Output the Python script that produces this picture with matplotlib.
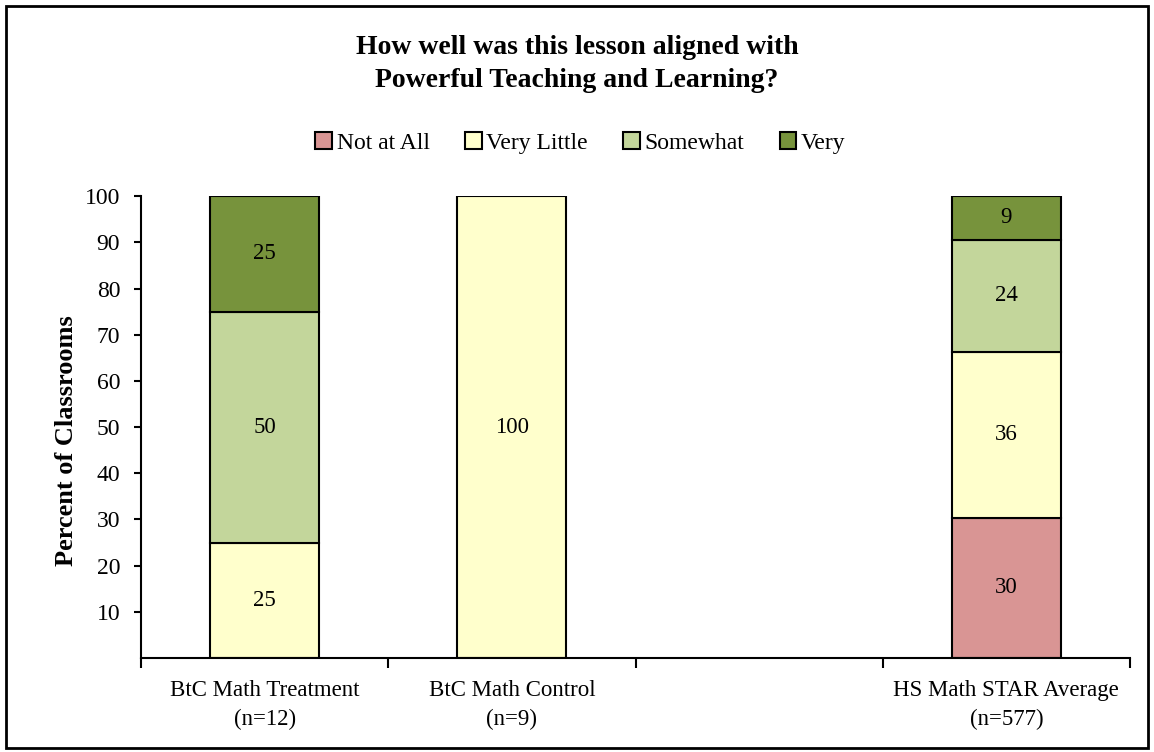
import numpy as np
import matplotlib.pyplot as plt
from matplotlib.patches import Rectangle

plt.rcParams['font.family'] = ['Liberation Serif', 'DejaVu Serif']

groups = ["BtC Math Treatment\n(n=12)", "BtC Math Control\n(n=9)", "", "HS Math STAR Average\n(n=577)"]
levels = ["Not at All", "Very Little", "Somewhat", "Very"]
colors = ["#D99594", "#FFFFCC", "#C3D69B", "#77933C"]

not_at_all = [0, 0, 0, 30.4]
very_little = [25, 100, 0, 35.9]
somewhat = [50, 0, 0, 24.3]
very = [25, 0, 0, 9.4]

series = [not_at_all, very_little, somewhat, very]

fig = plt.figure(figsize=(11.54, 7.52), dpi=100)
ax = fig.add_axes([0.1222, 0.125, 0.857, 0.614])

x = np.arange(len(groups))
bottom = np.zeros(len(groups))
for vals, lab, col in zip(series, levels, colors):
    vals = np.array(vals, dtype=float)
    h = np.where(vals > 0, vals, np.nan)  # skip empty segments
    ax.bar(x, h, 0.44, bottom=bottom, color=col, edgecolor='black', linewidth=1.5, label=lab)
    for xi, v, b in zip(x, vals, bottom):
        if v > 0:
            ax.text(xi, b + v / 2, "%.0f" % v, ha='center', va='center', fontsize=16.5)
    bottom += vals

ax.set_xlim(-0.5, 3.5)
ax.set_ylim(0, 100)
ax.set_yticks(np.arange(10, 101, 10))
ax.tick_params(axis='y', labelsize=17, length=5, width=1.5, direction='out', pad=10)
ax.set_xticks(x)
ax.set_xticklabels(groups, fontsize=16.5, linespacing=1.5)
ax.tick_params(axis='x', length=0, pad=16)
ax.set_xticks(np.arange(-0.5, 3.6, 1), minor=True)
ax.tick_params(axis='x', which='minor', length=7, width=1.5, direction='out')
for s in ['top', 'right']:
    ax.spines[s].set_visible(False)
for s in ['left', 'bottom']:
    ax.spines[s].set_linewidth(1.5)

ax.set_ylabel("Percent of Classrooms", fontsize=19, fontweight='bold')
ax.yaxis.set_label_coords(-0.064, 0.47)

fig.text(0.5, 0.915, "How well was this lesson aligned with\nPowerful Teaching and Learning?",
         ha='center', va='center', fontsize=20, fontweight='bold', linespacing=1.45)

handles, labels = ax.get_legend_handles_labels()
fig.legend(handles, labels, loc='center', bbox_to_anchor=(0.503, 0.81), ncol=4, frameon=False,
           fontsize=17, handlelength=0.7, handleheight=0.7, handletextpad=0.2,
           columnspacing=1.5)

fig.patches.append(Rectangle((0.005, 0.005), 0.99, 0.987, transform=fig.transFigure,
                             fill=False, edgecolor='black', linewidth=2))

fig.savefig("out.png", dpi=100)
